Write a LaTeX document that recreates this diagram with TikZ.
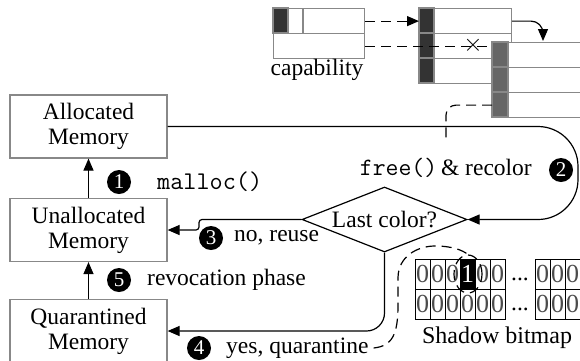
\documentclass[tikz,border=0pt]{standalone}
\usepackage{fontspec}
\setmainfont{Liberation Serif}
\usetikzlibrary{arrows.meta,shapes.geometric}

\definecolor{cellgray}{HTML}{888888}
\definecolor{capdark}{HTML}{333333}
\definecolor{objgray}{HTML}{666666}

\tikzset{
	membox/.style={draw=cellgray, line width=1.2pt, minimum width=157, minimum height=63, align=center, inner sep=0},
	stepnum/.style={circle, fill=black, text=white, inner sep=0, minimum size=24, font=\fontsize{21}{21}\selectfont},
	lbl/.style={inner sep=0},
	arr/.style={line width=1.2pt, -{Triangle[length=12pt,width=10pt]}},
	dashline/.style={dashed, dash pattern=on 10pt off 6pt, line width=1.2pt},
	rowbox/.style={draw=cellgray, line width=1.2pt, fill=white, anchor=north west, minimum height=25, inner sep=0},
	bitcell/.style={draw, line width=1pt, minimum width=15, minimum height=30, inner sep=0, text=black!70, font=\fontsize{26}{26}\selectfont},
}

\begin{document}
\begin{tikzpicture}[x=1pt, y=-1pt, font=\fontsize{23.5}{25}\selectfont]
	\useasboundingbox (0,0) rectangle (580,360);
	\clip (0,0) rectangle (580,360);

	\node[membox] (alloc) at (88.5,126.5) {Allocated\\Memory};
	\node[membox] (unalloc) at (88.5,230) {Unallocated\\Memory};
	\node[membox] (quar) at (88.5,331) {Quarantined\\Memory};
	\node[draw, diamond, line width=1.2pt, aspect=2.54, inner sep=0, minimum width=165, minimum height=65] (last) at (384.5,219.5) {Last color?};

	\draw[arr] (unalloc) -- (alloc);
	\draw[arr] (quar) -- (unalloc);
	\draw[arr, rounded corners=40pt] (alloc.east) -- (578,126.5) -- (578,219.5) -- (last.east);
	\draw[arr, rounded corners=3pt] (last.west) -- (199,219.5) -- (199,230) -- (unalloc.east);
	\draw[arr, rounded corners=18pt] (last.south) |- (quar.east);

	\node[stepnum] (n1) at (119,182) {1};
	\node[lbl, anchor=west, font=\ttfamily\fontsize{25.5}{26}\selectfont] (mallocl) at (157,182) {malloc()};
	\node[stepnum] (n2) at (561,170) {2};
	\node[lbl, anchor=east] (freel) at (532,168) {{\ttfamily\fontsize{25}{26}\selectfont free()}\,\& recolor};
	\node[stepnum] (n3) at (211,238) {3};
	\node[lbl, anchor=west] (reusel) at (234,238) {no, reuse};
	\node[stepnum] (n4) at (199,348) {4};
	\node[lbl, anchor=west] (quarl) at (226,348) {yes, quarantine};
	\node[stepnum] (n5) at (119,280) {5};
	\node[lbl, anchor=west] (revokel) at (147,280) {revocation phase};

	\node[rowbox, minimum width=91] (cap1) at (273,8) {};
	\node[rowbox, minimum width=91] (cap2) at (273,33) {};
	\draw[cellgray, line width=1.2pt, fill=capdark] (273,8) rectangle (288,33);
	\draw[cellgray, line width=1.2pt] (303,8) -- (303,33);
	\node[lbl] (capl) at (317,70) {capability};

	\foreach \k in {1,2,3} {
		\node[rowbox, minimum width=92] (objA\k) at (419,{8+25*(\k-1)}) {};
		\draw[cellgray, line width=1.2pt, fill=capdark] (419,{8+25*(\k-1)}) rectangle (434,{33+25*(\k-1)});
	}
	\foreach \k in {1,2,3} {
		\node[rowbox, minimum width=110] (objB\k) at (492,{42+25*(\k-1)}) {};
		\draw[cellgray, line width=1.2pt, fill=objgray] (492,{42+25*(\k-1)}) rectangle (508,{67+25*(\k-1)});
	}

	\coordinate (bhead) at (543,41);
	\coordinate (freetip) at (446,142);
	\draw[dashline, arr] (cap1.east) -- (objA1.west);
	\draw[dashline] (cap2.east) -- (cap2.east -| objB1.west);
	\node[lbl, font=\fontsize{30}{30}\selectfont] (cut) at (473,45) {$\times$};
	\draw[arr, rounded corners=12pt] (objA1.east) -| (bhead);
	\draw[dashline, rounded corners=10pt] (objB3.west) -| (freetip);

	\foreach \r/\y in {1/274, 2/304} {
		\foreach \i in {0,...,5} {
			\ifnum\r\i=13 \else \node[bitcell] (b\r\i) at ({422.5+15*\i},\y) {0}; \fi
		}
		\node[lbl] (dots\r) at (520,{\y+5}) {...};
		\foreach \i in {0,1,2}
			\node[bitcell] (c\r\i) at ({542.5+15*\i},\y) {0};
	}
	\node[bitcell, fill=black, text=white] (bset) at (467.5,274) {1};
	\node[lbl, font=\fontsize{24}{25}\selectfont] (shadowl) at (497,338) {Shadow bitmap};

	\node[draw, ellipse, dashline, minimum width=28, minimum height=38] (ring) at (468,274) {};
	\draw[dashline] ([xshift=5pt]quarl.east) .. controls (392,346) and (398,335) .. (398,305) -- (398,278) .. controls (398,256) and (418,246) .. (435,246) .. controls (452,246) and (462,250) .. (ring.north);
\end{tikzpicture}
\end{document}
